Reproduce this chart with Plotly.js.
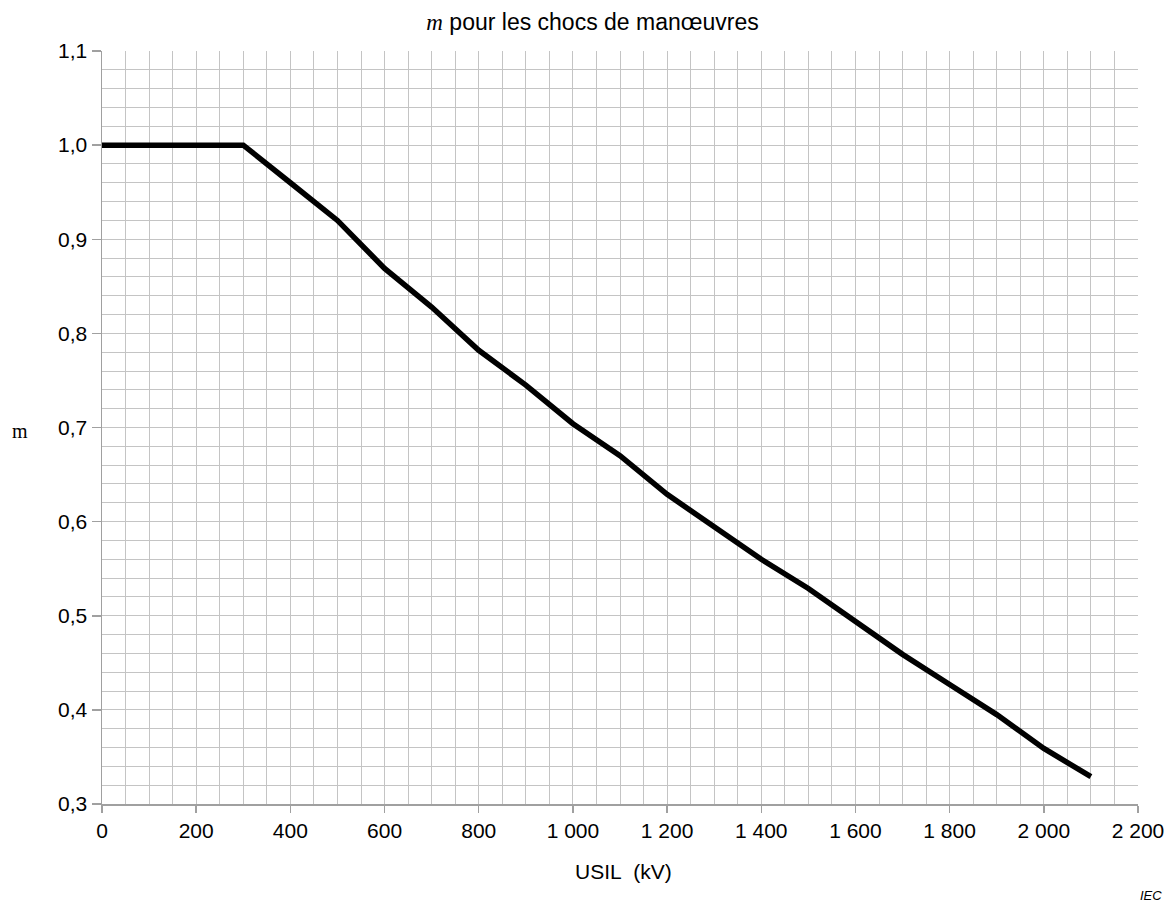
<!DOCTYPE html>
<html>
<head>
<meta charset="utf-8">
<script src="https://cdn.plot.ly/plotly-3.0.1.min.js"></script>
<style>html,body{margin:0;padding:0;background:#fff}#chart{width:1171px;height:904px}</style>
</head>
<body>
<div id="chart"></div>
<script>
const usil = [0, 300, 400, 500, 600, 700, 800, 900, 1000, 1100, 1200, 1300, 1400, 1500, 1600, 1700, 1800, 1900, 2000, 2100];
const mValues = [1.0, 1.0, 0.96, 0.92, 0.869, 0.828, 0.782, 0.745, 0.704, 0.670, 0.629, 0.595, 0.560, 0.529, 0.494, 0.459, 0.427, 0.395, 0.359, 0.329];
const xRange = [0, 2200];
const yRange = [0.3, 1.1];
const xMajorStep = 200, xMinorStep = 50;
const yMajorStep = 0.1, yMinorStep = 0.02;

const gridColor = "#c4c4c4";
const axisColor = "#a0a0a0";
const fontFam = "Liberation Sans, Arial, sans-serif";

const trace = {
  x: usil, y: mValues, type: "scatter", mode: "lines",
  line: {color: "#000", width: 5.5, shape: "linear"},
  hoverinfo: "skip"
};

const layout = {
  width: 1171, height: 904,
  margin: {l: 102, r: 33, t: 51, b: 100},
  paper_bgcolor: "#fff", plot_bgcolor: "#fff",
  showlegend: false,
  separators: ", ",
  font: {family: fontFam, color: "#000", size: 21},
  title: {
    text: "<i><span style='font-family:Liberation Serif, Times New Roman, serif'>m</span></i> pour les chocs de manœuvres",
    font: {family: fontFam, size: 23, color: "#000"},
    xref: "container", x: 0.506, xanchor: "center",
    yref: "container", y: 0.976, yanchor: "middle"
  },
  xaxis: {
    range: xRange, tickmode: "linear", tick0: 0, dtick: xMajorStep, tickformat: ",d",
    showgrid: true, gridcolor: gridColor, gridwidth: 1,
    minor: {tickmode: "linear", dtick: xMinorStep, tick0: 0, showgrid: true, gridcolor: gridColor, gridwidth: 1, ticks: ""},
    showline: true, linecolor: axisColor, linewidth: 1.5, mirror: false,
    ticks: "outside", ticklen: 7, tickcolor: axisColor, tickwidth: 1.5,
    tickfont: {size: 21, family: fontFam}, zeroline: false, fixedrange: true
  },
  yaxis: {
    range: yRange, tickmode: "linear", tick0: 0.3, dtick: yMajorStep, tickformat: ".1f",
    showgrid: true, gridcolor: gridColor, gridwidth: 1,
    minor: {tickmode: "linear", dtick: yMinorStep, tick0: 0.3, showgrid: true, gridcolor: gridColor, gridwidth: 1, ticks: ""},
    showline: true, linecolor: axisColor, linewidth: 1.5, mirror: false,
    ticks: "outside", ticklen: 9, tickcolor: axisColor, tickwidth: 1.5,
    tickfont: {size: 21, family: fontFam}, zeroline: false, fixedrange: true
  },
  annotations: [
    {text: "m", xref: "paper", yref: "paper", x: -0.079, y: 0.496, xanchor: "center", yanchor: "middle",
     showarrow: false, font: {family: "Liberation Serif, Times New Roman, serif", size: 20, color: "#000"}},
    {text: "USIL\u00a0\u00a0(kV)", xref: "paper", yref: "paper", x: 0.503, y: -0.089, xanchor: "center", yanchor: "middle",
     showarrow: false, font: {family: fontFam, size: 21, color: "#000"}},
    {text: "<i>IEC</i>", xref: "paper", yref: "paper", x: 1.025, y: -0.122, xanchor: "right", yanchor: "middle",
     showarrow: false, font: {family: fontFam, size: 13, color: "#000"}}
  ]
};

Plotly.newPlot("chart", [trace], layout, {displayModeBar: false, staticPlot: true});
</script>
</body>
</html>
